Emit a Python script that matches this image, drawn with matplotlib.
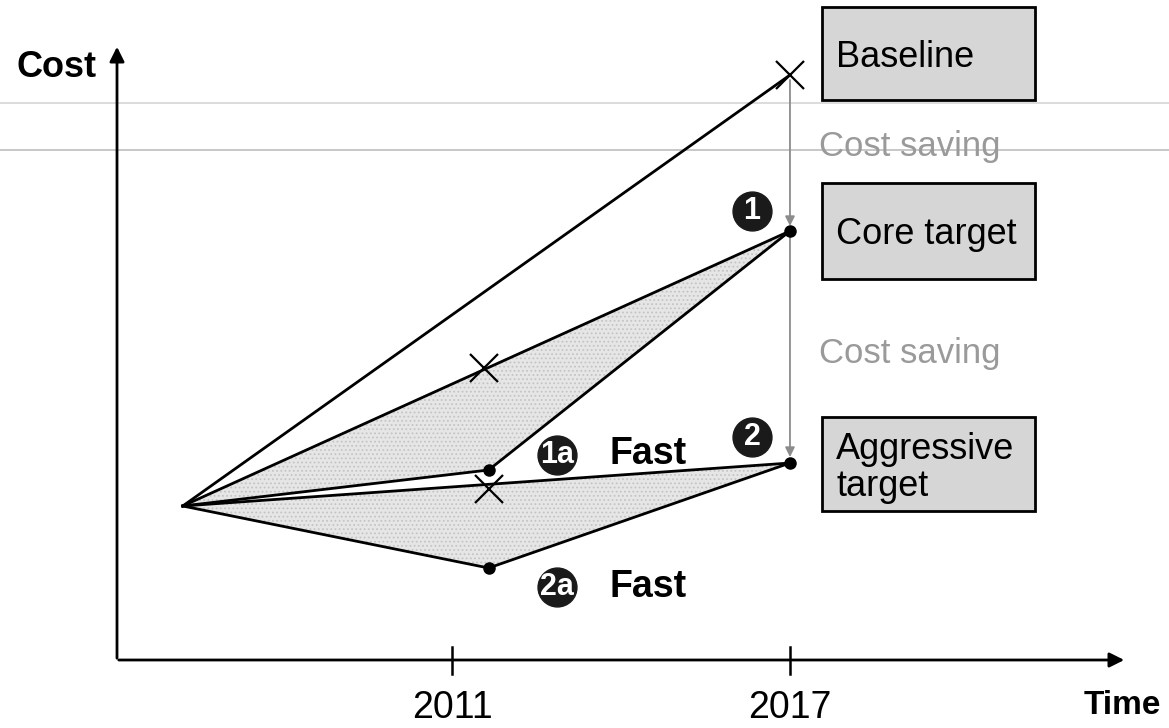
import matplotlib
matplotlib.use("Agg")
import matplotlib.pyplot as plt
from matplotlib.patches import Rectangle

# ---- data (years / arbitrary cost units) ----
start_year = 2006.22
mid_year = 2011.65
end_year = 2017
tick_years = [2011, 2017]
tick_labels = ["2011", "2017"]

start_cost = 1.54
baseline_cost = 5.85
core_cost = 4.29
aggressive_cost = 1.97
core_mid_cost = 2.92      # X on path to core target
aggr_mid_cost = 1.71      # X on path to aggressive target
fast1a_cost = 1.90
fast2a_cost = 0.92

box_labels = ["Baseline", "Core target", "Aggressive\ntarget"]
saving_label = "Cost saving"

# ---- pixel helpers for layout ----
W, H = 1169, 728
PX_PER_YEAR = 56.33
def X(px):
    return 2011 + (px - 452) / PX_PER_YEAR
def Y(py):
    return (660 - py) / 100.0

plt.rcParams['font.family'] = ['Liberation Sans', 'DejaVu Sans']
plt.rcParams['hatch.color'] = '#c4c4c4'
plt.rcParams['hatch.linewidth'] = 0.8
fig = plt.figure(figsize=(W / 100, H / 100), dpi=100)
ax = fig.add_axes([0, 0, 1, 1])
ax.set_xlim(X(0), X(W))
ax.set_ylim(Y(H), Y(0))
ax.axis('off')

# scan-like horizontal grey lines
ax.axhline(Y(103), color='#d6d6d6', lw=1.2, zorder=0)
ax.axhline(Y(150), color='#bdbdbd', lw=1.2, zorder=0)

# axes arrows
ax.annotate('', xy=(X(117), Y(44)), xytext=(X(117), Y(661)),
            arrowprops=dict(arrowstyle='-|>', color='black', lw=2, mutation_scale=22))
ax.annotate('', xy=(X(1127), Y(660)), xytext=(X(116), Y(660)),
            arrowprops=dict(arrowstyle='-|>', color='black', lw=2, mutation_scale=22))
for yr, lab in zip(tick_years, tick_labels):
    ax.plot([yr, yr], [Y(647), Y(674)], color='black', lw=1.8)
    ax.text(yr, Y(708), lab, ha='center', va='center', fontsize=27)
ax.text(X(97), Y(68), 'Cost', ha='right', va='center', fontsize=26, fontweight='bold')
ax.text(X(1161), Y(706), 'Time', ha='right', va='center', fontsize=24, fontweight='bold')

# shaded areas
fk = dict(facecolor='#e6e6e6', edgecolor='#c4c4c4', hatch='....', lw=0, zorder=1)
ax.fill([start_year, mid_year - 0.08, end_year, mid_year],
        [start_cost, core_mid_cost, core_cost, fast1a_cost], **fk)
ax.fill([start_year, end_year, mid_year],
        [start_cost, aggressive_cost, fast2a_cost], **fk)

lk = dict(color='black', lw=2, zorder=3)
ax.plot([start_year, end_year], [start_cost, baseline_cost], **lk)
ax.plot([start_year, end_year], [start_cost, core_cost], **lk)
ax.plot([start_year, mid_year, end_year], [start_cost, fast1a_cost, core_cost], **lk)
ax.plot([start_year, end_year], [start_cost, aggressive_cost], **lk)
ax.plot([start_year, mid_year, end_year], [start_cost, fast2a_cost, aggressive_cost], **lk)

# markers
ax.plot([end_year], [baseline_cost], marker='x', ms=20, mew=1.6, color='black', zorder=4)
ax.plot([mid_year - 0.08, mid_year], [core_mid_cost, aggr_mid_cost], 'x', ms=20, mew=1.6,
        color='black', zorder=4)
ax.plot([end_year, end_year, mid_year, mid_year],
        [core_cost, aggressive_cost, fast1a_cost, fast2a_cost],
        'o', ms=8, color='black', zorder=4)

# cost saving arrows
ap = dict(arrowstyle='-|>', color='#8c8c8c', lw=1.3, mutation_scale=14, shrinkA=0, shrinkB=0)
ax.annotate('', xy=(end_year, Y(226)), xytext=(end_year, Y(80)), arrowprops=ap, zorder=2)
ax.annotate('', xy=(end_year, Y(457)), xytext=(end_year, Y(233)), arrowprops=ap, zorder=2)
ax.text(X(819), Y(147), saving_label, color='#9a9a9a', fontsize=25, ha='left', va='center')
ax.text(X(819), Y(354), saving_label, color='#9a9a9a', fontsize=25, ha='left', va='center')

# boxes
boxes = [(7, 100), (183, 279), (417, 511)]
for (top, bot), lab in zip(boxes, box_labels):
    ax.add_patch(Rectangle((X(822), Y(bot)), X(1035) - X(822), Y(top) - Y(bot),
                           facecolor='#d6d6d6', edgecolor='black', lw=2, zorder=3))
    ax.text(X(836), Y((top + bot) / 2 + 4), lab, ha='left', va='center', fontsize=26,
            linespacing=1.1, zorder=4)

# numbered circles
circles = [(752, 211, '1'), (752, 437, '2'), (557, 455, '1a'), (557, 587, '2a')]
for cx, cy, t in circles:
    ax.plot([X(cx)], [Y(cy)], 'o', ms=28, color='#1a1a1a', zorder=5)
    ax.text(X(cx), Y(cy), t, color='white', ha='center', va='center', fontsize=22,
            fontweight='bold', zorder=6)
ax.text(X(609), Y(454), 'Fast', fontsize=27, fontweight='bold', ha='left', va='center')
ax.text(X(609), Y(587), 'Fast', fontsize=27, fontweight='bold', ha='left', va='center')

fig.savefig('out.png', dpi=100)
